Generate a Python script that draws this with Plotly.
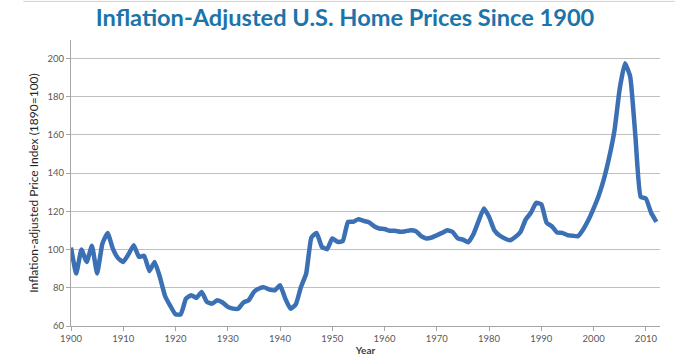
import plotly.graph_objects as go

years = list(range(1900, 2013))
index_values = [
    101, 87.5, 100, 93.5, 102, 87.5, 103, 108.7, 100.5, 95.5,
    93.5, 97.5, 102.3, 96.2, 96.7, 88.7, 93.5, 85.7, 75.7, 70.5,
    66.1, 66.1, 74.3, 76.1, 74.7, 77.8, 72.6, 71.7, 73.5, 72.3,
    70, 69.1, 69, 72.3, 73.5, 77.8, 79.6, 80.2, 79, 78.7,
    81.3, 74.3, 69, 71.2, 80.4, 87.4, 106.3, 108.7, 101.4, 100.2,
    105.8, 104, 104.4, 114.5, 114.5, 115.9, 115, 114.3, 112.2, 111,
    110.7, 109.8, 109.8, 109.3, 109.6, 110.1, 109.6, 107, 105.8, 106.3,
    107.5, 108.7, 110.1, 109.3, 105.8, 105.2, 103.8, 108, 115, 121.5,
    117, 110.1, 107.3, 105.8, 104.9, 106.6, 109.2, 115.7, 119.2, 124.4,
    123.6, 114, 112.2, 108.9, 108.7, 107.5, 107.2, 107, 110.5, 115.4,
    121.5, 128.4, 137.2, 148.5, 162.5, 184.3, 197.4, 190.4, 159, 127.6,
    126.7, 119.2, 114.5,
]
x_ticks = list(range(1900, 2011, 10))
y_ticks = list(range(60, 201, 20))

title_text = "Inflation-Adjusted U.S. Home Prices Since 1900"
x_title = "Year"
y_title = "Inflation-adjusted Price Index (1890=100)"

fig = go.Figure()
fig.add_trace(go.Scatter(
    x=years, y=index_values, mode="lines",
    line=dict(color="#3b70b5", width=4.5, shape="spline", smoothing=0.4),
    hoverinfo="skip", showlegend=False,
))

fig.update_layout(
    width=690, height=356,
    margin=dict(l=71, r=30, t=40, b=30, autoexpand=False),
    paper_bgcolor="white", plot_bgcolor="white",
    title=dict(text="<b>" + title_text + "</b>", x=0.5, xanchor="center", y=0.95, yanchor="middle",
               font=dict(family="Lato", size=23.6, color="#1b74aa"), automargin=False),
    font=dict(family="Lato", color="#595959"),
    shapes=[dict(type="line", xref="paper", yref="paper", x0=-0.081, x1=1.025,
                 y0=1.135, y1=1.135, line=dict(color="#d0d0d0", width=1))],
)
fig.update_xaxes(
    range=[1900, 2012.7], tickvals=x_ticks, ticktext=[str(v) for v in x_ticks],
    showgrid=False, showline=True, linecolor="#a6a6a6", linewidth=1,
    ticks="outside", ticklen=4, tickcolor="#a6a6a6",
    tickfont=dict(size=9.5, color="#595959", family="Lato"),
    title=dict(text="<b>" + x_title + "</b>", font=dict(size=10, color="#404040"), standoff=4),
    zeroline=False, fixedrange=True, automargin=False,
)
fig.update_yaxes(
    range=[60, 209.6], tickvals=y_ticks, ticktext=[str(v) for v in y_ticks],
    showgrid=True, gridcolor="#bfbfbf", gridwidth=1,
    showline=True, linecolor="#a6a6a6", linewidth=1,
    ticks="outside", ticklen=4, tickcolor="#a6a6a6",
    tickfont=dict(size=9.5, color="#595959", family="Lato"),
    title=dict(text=y_title, font=dict(size=12, color="#262626", family="Lato"), standoff=6),
    zeroline=False, fixedrange=True, automargin=False,
)

fig.write_html("out.html", config={"displayModeBar": False},
               post_script="document.body.style.margin='0';")
